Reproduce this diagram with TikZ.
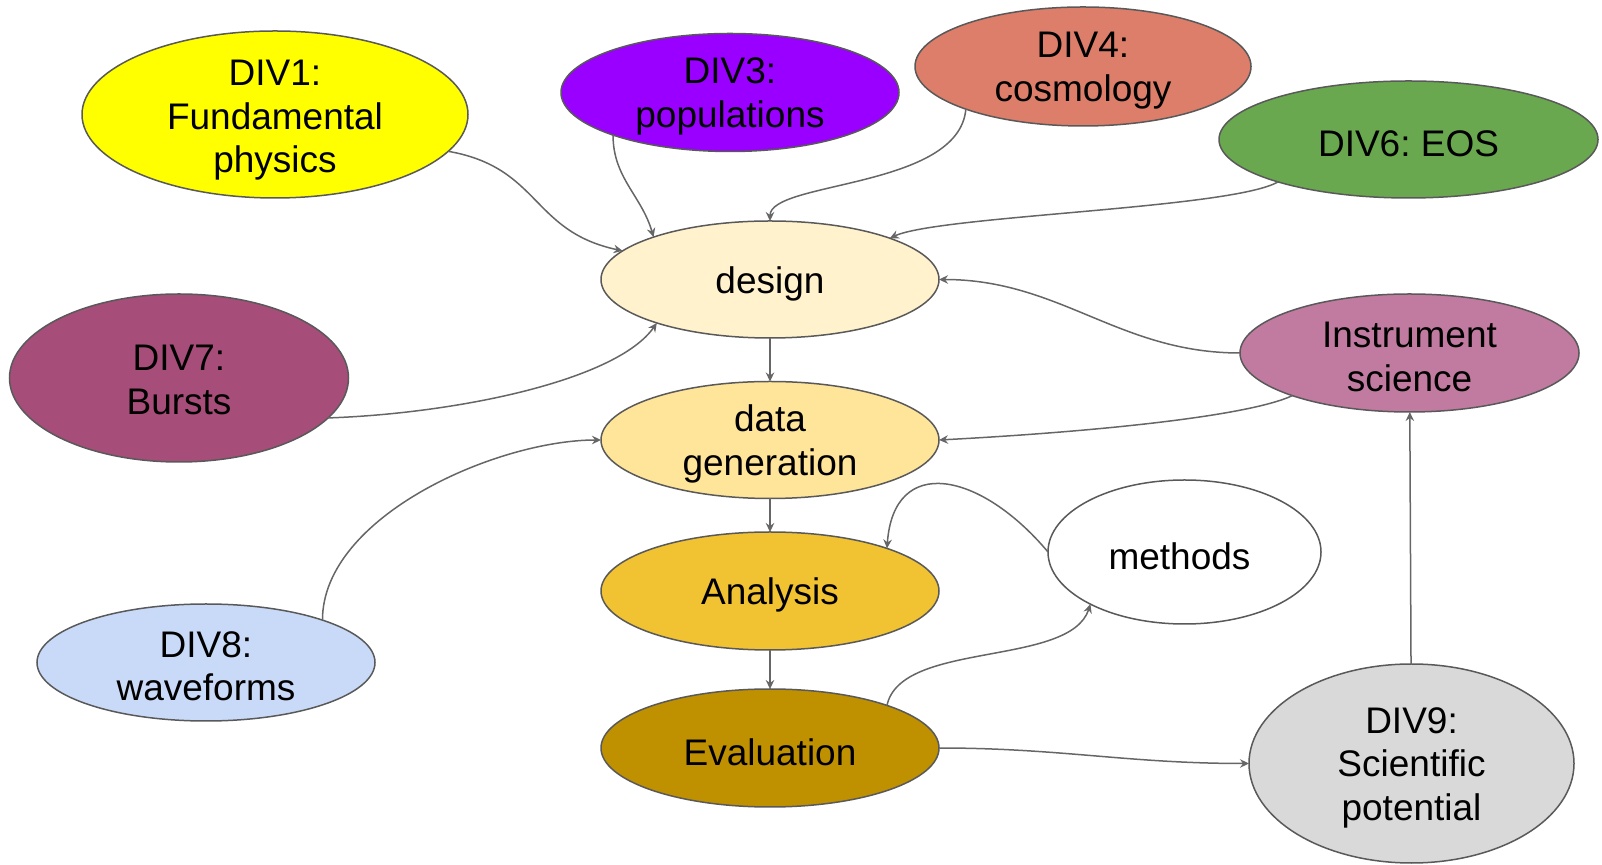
\documentclass[tikz,border=0pt]{standalone}
\usepackage{fontspec}
\setmainfont{Liberation Sans}
\usetikzlibrary{shapes.geometric,arrows.meta}
\definecolor{bord}{HTML}{595959}
\definecolor{linec}{HTML}{666666}
\definecolor{cdone}{HTML}{FFFF00}
\definecolor{cdthree}{HTML}{9900FF}
\definecolor{cdfour}{HTML}{DD7E6B}
\definecolor{cdsix}{HTML}{6AA84F}
\definecolor{cdseven}{HTML}{A64D79}
\definecolor{cinst}{HTML}{C27BA0}
\definecolor{cdes}{HTML}{FFF2CC}
\definecolor{cgen}{HTML}{FFE599}
\definecolor{cana}{HTML}{F1C232}
\definecolor{ceval}{HTML}{BF9000}
\definecolor{cdeight}{HTML}{C9DAF8}
\definecolor{cdnine}{HTML}{D9D9D9}
\frenchspacing
\begin{document}
\begin{tikzpicture}[x=1pt,y=1pt,
  ell/.style={ellipse, draw=bord, line width=1.5pt, inner sep=0pt, outer sep=0pt},
  lbl/.style={align=center, inner sep=0pt, font=\fontsize{37}{43.5}\selectfont, yshift=-4pt},
  arr/.style={draw=linec, line width=1.5pt, -{Stealth[length=9pt,width=8.5pt,inset=3pt]}}]
\useasboundingbox (0,0) rectangle (1602,864);
% ellipses
\node[ell, fill=cdone, minimum width=386, minimum height=167] (d1) at (275,749.5) {};
\node[ell, fill=cdthree, minimum width=338, minimum height=118] (d3) at (730,771.5) {};
\node[ell, fill=cdfour, minimum width=336, minimum height=119] (d4) at (1083,797.5) {};
\node[ell, fill=cdsix, minimum width=379, minimum height=117] (d6) at (1408.5,724.5) {};
\node[ell, fill=cdes, minimum width=338, minimum height=117] (des) at (770,584.5) {};
\node[ell, fill=cdseven, minimum width=339, minimum height=168] (d7) at (179,486) {};
\node[ell, fill=cgen, minimum width=338, minimum height=117] (gen) at (770,424) {};
\node[ell, fill=cinst, minimum width=339, minimum height=118] (inst) at (1409.5,511) {};
\node[ell, fill=cana, minimum width=338, minimum height=118] (ana) at (770,273) {};
\node[ell, fill=ceval, minimum width=338, minimum height=118] (eval) at (770,116) {};
\node[ell, fill=cdeight, minimum width=338, minimum height=117] (d8) at (206,201.5) {};
\node[ell, fill=white, minimum width=273, minimum height=144] (meth) at (1184.5,312) {};
\node[ell, fill=cdnine, minimum width=325, minimum height=199] (d9) at (1411.5,100.5) {};
% labels
\node[lbl, yshift=-2pt] (d1t) at (d1) {DIV1:\\Fundamental\\physics};
\node[lbl] (d3t) at (d3) {DIV3:\\populations};
\node[lbl] (d4t) at (d4) {DIV4:\\cosmology};
\node[lbl] (d6t) at (d6) {DIV6: EOS};
\node[lbl] (dest) at (des) {design};
\node[lbl, yshift=2pt] (d7t) at (d7) {DIV7:\\Bursts};
\node[lbl] (gent) at (gen) {data\\generation};
\node[lbl] (instt) at (inst) {Instrument\\science};
\node[lbl] (anat) at (ana) {Analysis};
\node[lbl] (evalt) at (eval) {Evaluation};
\node[lbl] (d8t) at (d8) {DIV8:\\waveforms};
\node[lbl, xshift=-5pt] (metht) at (meth) {methods};
\node[lbl] (d9t) at (d9) {DIV9:\\Scientific\\potential};
% connectors
\draw[arr] (d1.-12) to[out=-10,in=168,looseness=1.2] (des.169);
\draw[arr] (d3.-160) to[out=-90,in=106] (des.160);
\draw[arr] (d4.-160) to[out=-95,in=90,out distance=80pt,in distance=40pt] (des.north);
\draw[arr] (d6.-162) to[out=-150,in=25,looseness=0.35] (des.19);
\draw[arr] (inst.west) to[out=180,in=0] (des.east);
\draw[arr] (inst.-160) to[out=-155,in=3,out distance=50pt,in distance=150pt] (gen.east);
\draw[arr] (d9) -- (inst);
\draw[arr] (d7.-15) to[out=2,in=-125,out distance=130pt,in distance=70pt] (des.-159);
\draw[arr] (des) -- (gen);
\draw[arr] (gen) -- (ana);
\draw[arr] (ana) -- (eval);
\draw[arr] (d8.20) to[out=90,in=180,looseness=0.8] (gen.west);
\draw[arr] (meth.west) to[out=130,in=86,out distance=105pt,in distance=95pt] (ana.20);
\draw[arr] (eval.20) to[out=78,in=-108,looseness=0.75] (meth.-151);
\draw[arr] (eval.east) to[out=0,in=180] (d9.west);
\end{tikzpicture}
\end{document}
